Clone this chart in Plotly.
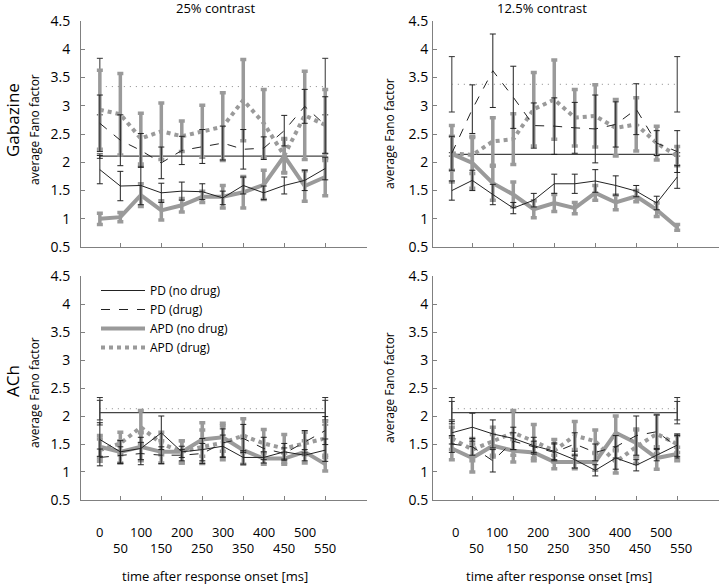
import plotly.graph_objects as go

# time after response onset [ms]
times = [0, 50, 100, 150, 200, 250, 300, 350, 400, 450, 500, 550]
tick_labels_row1 = [0, 100, 200, 300, 400, 500]
tick_labels_row2 = [50, 150, 250, 350, 450, 550]

# Gabazine, 25% contrast
gab25_pd_nodrug = [1.87, 1.58, 1.59, 1.46, 1.49, 1.48, 1.37, 1.59, 1.46, 1.59, 1.68, 1.89]
gab25_pd_nodrug_err = [0.25, 0.26, 0.34, 0.17, 0.16, 0.14, 0.12, 0.15, 0.12, 0.15, 0.18, 0.2]
gab25_pd_drug = [2.69, 2.39, 2.21, 1.99, 2.21, 2.28, 2.34, 2.23, 2.25, 2.56, 2.99, 2.66]
gab25_pd_drug_err = [0.5, 0.45, 0.3, 0.28, 0.25, 0.3, 0.3, 0.35, 0.2, 0.27, 0.3, 0.5]
gab25_apd_nodrug = [1.0, 1.03, 1.42, 1.15, 1.24, 1.39, 1.39, 1.47, 1.60, 2.11, 1.58, 1.74]
gab25_apd_nodrug_err = [0.1, 0.08, 0.2, 0.17, 0.12, 0.1, 0.2, 0.28, 0.26, 0.3, 0.27, 0.33]
gab25_apd_drug = [2.93, 2.85, 2.42, 2.55, 2.46, 2.55, 2.63, 3.10, 2.69, 2.12, 2.83, 2.66]
gab25_apd_drug_err = [0.7, 0.72, 0.45, 0.5, 0.27, 0.46, 0.6, 0.72, 0.6, 0.3, 0.78, 0.63]
gab25_base = [2.11, 0.04]
gab25_base_drug = [3.34, 0.5]

# Gabazine, 12.5% contrast
gab12_pd_nodrug = [1.50, 1.68, 1.43, 1.19, 1.33, 1.62, 1.62, 1.67, 1.59, 1.49, 1.28, 1.74]
gab12_pd_nodrug_err = [0.17, 0.18, 0.18, 0.1, 0.12, 0.17, 0.17, 0.2, 0.17, 0.1, 0.12, 0.2]
gab12_pd_drug = [2.16, 2.94, 3.62, 3.15, 2.65, 2.64, 2.61, 2.59, 2.67, 2.94, 2.34, 2.19]
gab12_pd_drug_err = [0.3, 0.43, 0.65, 0.55, 0.4, 0.5, 0.45, 0.6, 0.4, 0.45, 0.22, 0.37]
gab12_apd_nodrug = [2.15, 1.99, 1.63, 1.43, 1.17, 1.28, 1.19, 1.46, 1.29, 1.40, 1.16, 0.85]
gab12_apd_nodrug_err = [0.5, 0.45, 0.3, 0.22, 0.15, 0.15, 0.1, 0.13, 0.13, 0.1, 0.12, 0.05]
gab12_apd_drug = [2.16, 2.13, 2.37, 2.41, 2.94, 3.11, 2.79, 2.82, 2.61, 2.67, 2.34, 2.11]
gab12_apd_drug_err = [0.3, 0.33, 0.42, 0.45, 0.65, 0.7, 0.5, 0.55, 0.5, 0.47, 0.3, 0.17]
gab12_base = [2.14, 0.03]
gab12_base_drug = [3.38, 0.49]

# ACh, 25% contrast
ach25_pd_nodrug = [1.58, 1.36, 1.42, 1.70, 1.36, 1.40, 1.46, 1.26, 1.26, 1.36, 1.30, 1.39]
ach25_pd_nodrug_err = [0.3, 0.2, 0.2, 0.3, 0.1, 0.2, 0.2, 0.12, 0.1, 0.15, 0.1, 0.2]
ach25_pd_drug = [1.26, 1.30, 1.33, 1.30, 1.30, 1.33, 1.52, 1.60, 1.42, 1.33, 1.54, 1.74]
ach25_pd_drug_err = [0.15, 0.15, 0.2, 0.15, 0.1, 0.18, 0.25, 0.25, 0.2, 0.1, 0.2, 0.25]
ach25_apd_nodrug = [1.45, 1.36, 1.45, 1.36, 1.36, 1.58, 1.62, 1.39, 1.24, 1.24, 1.36, 1.14]
ach25_apd_nodrug_err = [0.2, 0.2, 0.25, 0.2, 0.2, 0.3, 0.25, 0.25, 0.1, 0.1, 0.2, 0.12]
ach25_apd_drug = [1.39, 1.51, 1.80, 1.51, 1.36, 1.45, 1.52, 1.65, 1.51, 1.42, 1.51, 1.60]
ach25_apd_drug_err = [0.2, 0.2, 0.3, 0.2, 0.2, 0.3, 0.3, 0.3, 0.25, 0.25, 0.2, 0.3]
ach25_base = [2.06, 0.22]
ach25_base_drug = [2.13, 0.2]

# ACh, 12.5% contrast
ach12_pd_nodrug = [1.70, 1.80, 1.68, 1.60, 1.47, 1.37, 1.22, 1.03, 1.25, 1.12, 1.30, 1.48]
ach12_pd_nodrug_err = [0.2, 0.25, 0.25, 0.2, 0.15, 0.15, 0.15, 0.1, 0.2, 0.1, 0.1, 0.2]
ach12_pd_drug = [1.50, 1.45, 1.20, 1.55, 1.45, 1.35, 1.50, 1.35, 1.45, 1.65, 1.72, 1.45]
ach12_pd_drug_err = [0.15, 0.15, 0.2, 0.15, 0.1, 0.15, 0.2, 0.15, 0.2, 0.35, 0.3, 0.2]
ach12_apd_nodrug = [1.42, 1.25, 1.47, 1.38, 1.35, 1.18, 1.18, 1.18, 1.70, 1.52, 1.25, 1.32]
ach12_apd_nodrug_err = [0.2, 0.25, 0.2, 0.2, 0.15, 0.12, 0.12, 0.15, 0.3, 0.25, 0.2, 0.12]
ach12_apd_drug = [1.60, 1.40, 1.55, 1.70, 1.55, 1.38, 1.65, 1.55, 1.18, 1.45, 1.68, 1.50]
ach12_apd_drug_err = [0.2, 0.2, 0.25, 0.4, 0.3, 0.2, 0.25, 0.2, 0.2, 0.3, 0.35, 0.15]
ach12_base = [2.06, 0.2]
ach12_base_drug = [2.13, 0.2]

GRAY = '#9a9a9a'
DARK = '#222222'
FONT = 'Open Sans'

fig = go.Figure()

def add_panel(n, pd_nd, pd_nd_e, pd_d, pd_d_e, apd_nd, apd_nd_e, apd_d, apd_d_e, base, base_d, legend=False):
	xa = 'x' if n == 1 else 'x' + str(n)
	ya = 'y' if n == 1 else 'y' + str(n)
	ends = [times[0], times[-1]]
	# baseline (dotted, drug) and baseline (solid, no drug)
	fig.add_trace(go.Scatter(x=ends, y=[base_d[0]] * 2, mode='lines', xaxis=xa, yaxis=ya,
		line=dict(color='#888888', width=1, dash='1px,5px'), showlegend=False,
		error_y=dict(type='data', array=[base_d[1]] * 2, color='#333333', thickness=1, width=3)))
	fig.add_trace(go.Scatter(x=ends, y=[base[0]] * 2, mode='lines', xaxis=xa, yaxis=ya,
		line=dict(color='#444444', width=1.3), showlegend=False,
		error_y=dict(type='data', array=[base[1]] * 2, color='#333333', thickness=1, width=3)))
	series = [
		('APD (drug)', apd_d, apd_d_e, dict(color=GRAY, width=4, dash='dot'), GRAY, 3.5, 3),
		('APD (no drug)', apd_nd, apd_nd_e, dict(color=GRAY, width=4), GRAY, 3.5, 3),
		('PD (drug)', pd_d, pd_d_e, dict(color=DARK, width=1, dash='dash'), DARK, 1, 3),
		('PD (no drug)', pd_nd, pd_nd_e, dict(color=DARK, width=1), DARK, 1, 3),
	]
	ranks = {'PD (no drug)': 1, 'PD (drug)': 2, 'APD (no drug)': 3, 'APD (drug)': 4}
	for name, y, e, ln, ec, th, w in series:
		fig.add_trace(go.Scatter(x=times, y=y, mode='lines', name=name, xaxis=xa, yaxis=ya,
			line=ln, showlegend=legend, legendrank=ranks[name],
			error_y=dict(type='data', array=e, color=ec, thickness=th, width=w)))

add_panel(1, gab25_pd_nodrug, gab25_pd_nodrug_err, gab25_pd_drug, gab25_pd_drug_err,
	gab25_apd_nodrug, gab25_apd_nodrug_err, gab25_apd_drug, gab25_apd_drug_err, gab25_base, gab25_base_drug)
add_panel(2, gab12_pd_nodrug, gab12_pd_nodrug_err, gab12_pd_drug, gab12_pd_drug_err,
	gab12_apd_nodrug, gab12_apd_nodrug_err, gab12_apd_drug, gab12_apd_drug_err, gab12_base, gab12_base_drug)
add_panel(3, ach25_pd_nodrug, ach25_pd_nodrug_err, ach25_pd_drug, ach25_pd_drug_err,
	ach25_apd_nodrug, ach25_apd_nodrug_err, ach25_apd_drug, ach25_apd_drug_err, ach25_base, ach25_base_drug, legend=True)
add_panel(4, ach12_pd_nodrug, ach12_pd_nodrug_err, ach12_pd_drug, ach12_pd_drug_err,
	ach12_apd_nodrug, ach12_apd_nodrug_err, ach12_apd_drug, ach12_apd_drug_err, ach12_base, ach12_base_drug)

x_dom = [[0, 0.4483], [0.5517, 1]]
y_dom = [[0.528, 1], [0, 0.4676]]

axis_common = dict(showline=True, linecolor='#808080', linewidth=1, ticks='inside', ticklen=4,
	tickcolor='#808080', showgrid=False, zeroline=False, tickfont=dict(size=14, color='black'))

layout = dict()
for n in range(1, 5):
	col = (n - 1) % 2
	row = (n - 1) // 2
	xkey = 'xaxis' if n == 1 else 'xaxis' + str(n)
	ykey = 'yaxis' if n == 1 else 'yaxis' + str(n)
	layout[xkey] = dict(axis_common, domain=x_dom[col], range=[-46, 652],
		tickvals=[50, 150, 250, 350, 450, 550, 650], showticklabels=False,
		anchor='y' if n == 1 else 'y' + str(n))
	layout[ykey] = dict(axis_common, domain=y_dom[row], range=[0.5, 4.5],
		tickvals=[0.5, 1, 1.5, 2, 2.5, 3, 3.5, 4, 4.5], ticktext=['0.5', '1', '1.5', '2', '2.5', '3', '3.5', '4', '4.5'],
		ticklabelstandoff=7 if col == 0 else 1,
		anchor='x' if n == 1 else 'x' + str(n))

# page pixel -> paper coords
def px_x(px):
	return (px - 81) / 638.0
def px_y(py):
	return (500 - py) / 479.0

def label(text, px, py, size=13, angle=0):
	return dict(text=text, x=px_x(px), y=px_y(py), xref='paper', yref='paper', xanchor='center',
		yanchor='middle', showarrow=False, textangle=angle, font=dict(size=size))

annotations = [
	label('25% contrast', 215, 8),
	label('12.5% contrast', 542, 8),
	label('Gabazine', 12, 120, size=17, angle=-90),
	label('ACh', 12, 381, size=17, angle=-90),
	label('time after response onset [ms]', 215, 576),
	label('time after response onset [ms]', 559, 576),
]
for px, py in [(34, 130), (34, 393), (389, 134), (389, 388)]:
	annotations.append(label('average Fano factor', px, py, size=12, angle=-90))

# staggered time labels below the ACh panels
for xr, shift in [('x3', 0), ('x4', 4)]:
	for row_vals, py in [(tick_labels_row1, 532), (tick_labels_row2, 548)]:
		for v in row_vals:
			annotations.append(dict(text=str(v), x=v, y=px_y(py), xref=xr, yref='paper', xshift=shift,
				xanchor='center', yanchor='middle', showarrow=False, font=dict(size=13)))

fig.update_layout(
	width=720, height=584,
	margin=dict(l=81, r=1, t=21, b=84),
	plot_bgcolor='white', paper_bgcolor='white',
	font=dict(family=FONT, color='black', size=13),
	legend=dict(x=px_x(96), y=px_y(276), xanchor='left', yanchor='top', bgcolor='rgba(0,0,0,0)',
		font=dict(size=12), tracegroupgap=0, itemwidth=44),
	annotations=annotations,
	**layout
)

# drop the browser's default 8px body margin so the figure sits at the page corner
fig.write_html('out.html', config={'displayModeBar': False},
	post_script="document.body.style.margin='0px';")
